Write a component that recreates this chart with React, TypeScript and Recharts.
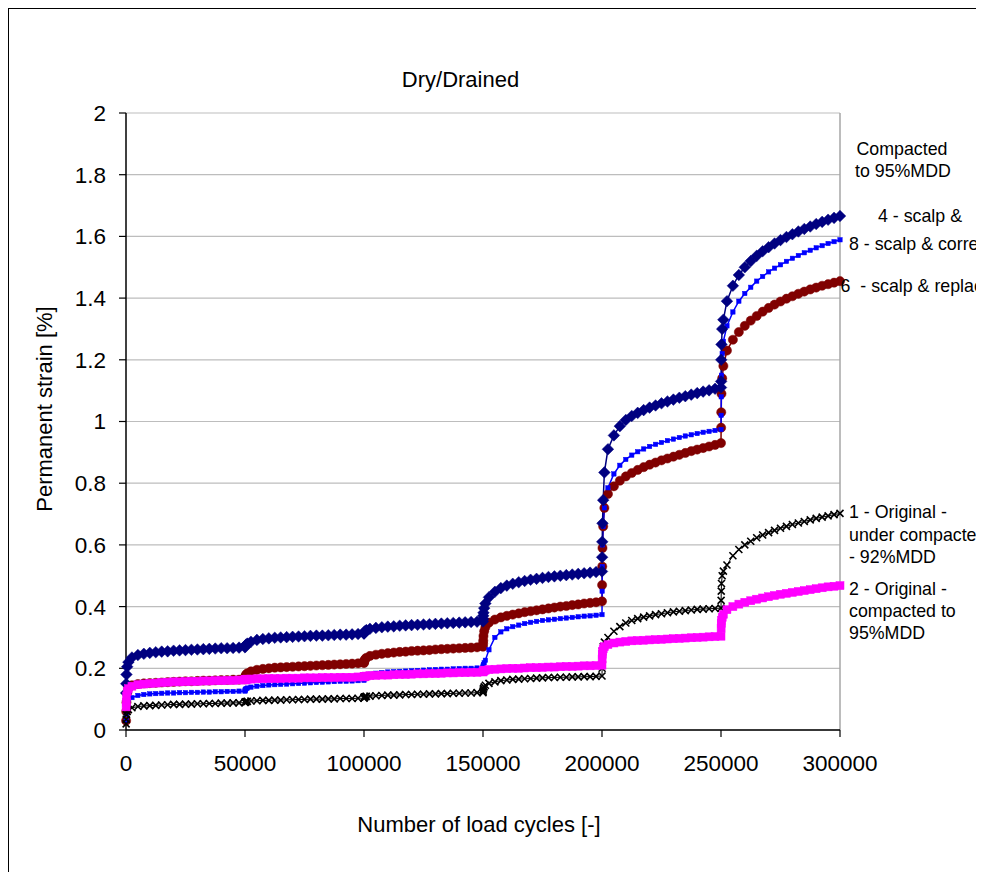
import React from 'react';
import { LineChart, Line, XAxis, YAxis, CartesianGrid, ReferenceLine } from 'recharts';

// Reading schedule: each loading stage starts at a stage boundary and is read at fixed offsets.
const stageStarts = [0, 50000, 100000, 150000, 200000, 250000];
const stageOffsets = [
  50, 100, 200, 500, 1000, 2500, 5000, 7500, 10000, 12500, 15000, 17500, 20000,
  22500, 25000, 27500, 30000, 32500, 35000, 37500, 40000, 42500, 45000, 47500, 50000,
];
const cycles = stageStarts.flatMap((s) => stageOffsets.map((o) => s + o));

// Permanent strain [%] per specimen, one row per loading stage.
const strain4 = [
  0.12, 0.15, 0.18, 0.205, 0.22, 0.235, 0.243, 0.247, 0.25, 0.252, 0.254, 0.255, 0.257, 0.258, 0.259, 0.26, 0.261, 0.262, 0.263, 0.264, 0.265, 0.265, 0.266, 0.267, 0.268,
  0.27, 0.272, 0.274, 0.277, 0.28, 0.286, 0.292, 0.295, 0.297, 0.299, 0.3, 0.301, 0.302, 0.303, 0.304, 0.305, 0.306, 0.306, 0.307, 0.308, 0.309, 0.309, 0.31, 0.311, 0.312,
  0.314, 0.316, 0.318, 0.321, 0.324, 0.328, 0.331, 0.333, 0.335, 0.336, 0.338, 0.339, 0.34, 0.341, 0.342, 0.343, 0.344, 0.345, 0.346, 0.347, 0.348, 0.349, 0.35, 0.351, 0.352,
  0.36, 0.37, 0.38, 0.395, 0.41, 0.43, 0.448, 0.46, 0.468, 0.474, 0.479, 0.483, 0.487, 0.49, 0.493, 0.496, 0.498, 0.5, 0.502, 0.504, 0.506, 0.508, 0.51, 0.512, 0.514,
  0.56, 0.61, 0.67, 0.745, 0.835, 0.91, 0.955, 0.985, 1.005, 1.018, 1.028, 1.037, 1.045, 1.052, 1.059, 1.065, 1.071, 1.077, 1.082, 1.087, 1.092, 1.097, 1.101, 1.106, 1.11,
  1.13, 1.2, 1.25, 1.3, 1.33, 1.39, 1.44, 1.475, 1.5, 1.52, 1.537, 1.552, 1.565, 1.577, 1.588, 1.598, 1.607, 1.616, 1.624, 1.632, 1.64, 1.647, 1.654, 1.66, 1.666,
];

const strain8 = [
  0.03, 0.05, 0.07, 0.09, 0.1, 0.105, 0.112, 0.115, 0.117, 0.118, 0.119, 0.12, 0.12, 0.121, 0.121, 0.122, 0.122, 0.123, 0.123, 0.124, 0.124, 0.125, 0.125, 0.126, 0.126,
  0.128, 0.13, 0.132, 0.134, 0.136, 0.139, 0.142, 0.144, 0.146, 0.147, 0.148, 0.149, 0.15, 0.151, 0.152, 0.153, 0.154, 0.155, 0.156, 0.157, 0.158, 0.158, 0.159, 0.16, 0.161,
  0.166, 0.169, 0.172, 0.175, 0.178, 0.181, 0.184, 0.186, 0.188, 0.189, 0.19, 0.191, 0.192, 0.193, 0.194, 0.195, 0.196, 0.197, 0.197, 0.198, 0.199, 0.2, 0.2, 0.201, 0.202,
  0.205, 0.208, 0.212, 0.218, 0.226, 0.26, 0.3, 0.318, 0.328, 0.335, 0.34, 0.345, 0.349, 0.352, 0.355, 0.357, 0.359, 0.361, 0.363, 0.365, 0.367, 0.369, 0.37, 0.372, 0.374,
  0.45, 0.53, 0.6, 0.66, 0.72, 0.785, 0.83, 0.858, 0.877, 0.891, 0.902, 0.911, 0.919, 0.926, 0.932, 0.938, 0.943, 0.948, 0.953, 0.957, 0.961, 0.965, 0.968, 0.971, 0.974,
  1.02, 1.08, 1.15, 1.22, 1.26, 1.31, 1.355, 1.39, 1.415, 1.435, 1.455, 1.47, 1.485, 1.497, 1.508, 1.519, 1.529, 1.538, 1.547, 1.555, 1.563, 1.57, 1.577, 1.583, 1.589,
];

const strain6 = [
  0.03, 0.06, 0.09, 0.12, 0.135, 0.145, 0.149, 0.151, 0.152, 0.153, 0.154, 0.155, 0.156, 0.157, 0.158, 0.158, 0.159, 0.16, 0.16, 0.161, 0.162, 0.162, 0.163, 0.163, 0.164,
  0.168, 0.172, 0.176, 0.18, 0.184, 0.19, 0.195, 0.198, 0.2, 0.202, 0.203, 0.204, 0.205, 0.206, 0.207, 0.208, 0.209, 0.21, 0.211, 0.212, 0.213, 0.214, 0.215, 0.216, 0.217,
  0.22, 0.223, 0.226, 0.23, 0.234, 0.24, 0.244, 0.247, 0.249, 0.251, 0.253, 0.254, 0.256, 0.257, 0.258, 0.259, 0.261, 0.262, 0.263, 0.264, 0.265, 0.266, 0.267, 0.268, 0.27,
  0.28, 0.29, 0.305, 0.32, 0.333, 0.348, 0.358, 0.365, 0.37, 0.374, 0.378, 0.382, 0.385, 0.388, 0.391, 0.394, 0.397, 0.4, 0.402, 0.405, 0.407, 0.41, 0.412, 0.414, 0.417,
  0.47, 0.53, 0.59, 0.66, 0.72, 0.765, 0.79, 0.808, 0.822, 0.833, 0.843, 0.852, 0.86, 0.867, 0.874, 0.88, 0.886, 0.892, 0.898, 0.904, 0.909, 0.914, 0.919, 0.924, 0.93,
  0.98, 1.03, 1.09, 1.14, 1.18, 1.23, 1.265, 1.29, 1.31, 1.327, 1.342, 1.356, 1.368, 1.379, 1.389, 1.398, 1.406, 1.414, 1.421, 1.428, 1.434, 1.44, 1.445, 1.45, 1.455,
];

const strain1 = [
  0.02, 0.035, 0.05, 0.06, 0.066, 0.072, 0.076, 0.078, 0.079, 0.08, 0.081, 0.082, 0.083, 0.083, 0.084, 0.084, 0.085, 0.085, 0.086, 0.086, 0.087, 0.087, 0.088, 0.088, 0.089,
  0.09, 0.09, 0.091, 0.092, 0.093, 0.094, 0.095, 0.096, 0.096, 0.097, 0.097, 0.098, 0.098, 0.099, 0.099, 0.1, 0.1, 0.1, 0.101, 0.101, 0.102, 0.102, 0.102, 0.103, 0.103,
  0.105, 0.106, 0.107, 0.108, 0.109, 0.11, 0.111, 0.112, 0.113, 0.113, 0.114, 0.115, 0.115, 0.116, 0.116, 0.117, 0.117, 0.118, 0.118, 0.119, 0.119, 0.12, 0.12, 0.121, 0.121,
  0.125, 0.13, 0.135, 0.14, 0.145, 0.151, 0.156, 0.16, 0.162, 0.164, 0.165, 0.166, 0.167, 0.168, 0.169, 0.17, 0.17, 0.171, 0.171, 0.172, 0.172, 0.173, 0.173, 0.174, 0.175,
  0.2, 0.23, 0.255, 0.27, 0.285, 0.3, 0.32, 0.335, 0.347, 0.355, 0.361, 0.366, 0.37, 0.374, 0.377, 0.38, 0.383, 0.385, 0.387, 0.389, 0.391, 0.392, 0.393, 0.394, 0.395,
  0.42, 0.45, 0.475, 0.5, 0.515, 0.535, 0.565, 0.585, 0.6, 0.612, 0.623, 0.632, 0.64, 0.647, 0.654, 0.66, 0.666, 0.671, 0.676, 0.681, 0.686, 0.69, 0.694, 0.698, 0.702,
];

const strain2 = [
  0.075, 0.09, 0.11, 0.125, 0.134, 0.142, 0.147, 0.149, 0.151, 0.152, 0.154, 0.155, 0.156, 0.156, 0.157, 0.158, 0.158, 0.159, 0.159, 0.16, 0.16, 0.161, 0.161, 0.162, 0.162,
  0.163, 0.163, 0.164, 0.164, 0.165, 0.165, 0.166, 0.166, 0.167, 0.167, 0.167, 0.168, 0.168, 0.168, 0.169, 0.169, 0.169, 0.17, 0.17, 0.17, 0.171, 0.171, 0.171, 0.172, 0.172,
  0.173, 0.173, 0.174, 0.174, 0.175, 0.176, 0.177, 0.178, 0.178, 0.179, 0.18, 0.18, 0.181, 0.182, 0.182, 0.183, 0.183, 0.184, 0.185, 0.185, 0.186, 0.186, 0.187, 0.187, 0.188,
  0.19, 0.191, 0.192, 0.193, 0.194, 0.196, 0.197, 0.198, 0.199, 0.2, 0.2, 0.201, 0.202, 0.202, 0.203, 0.204, 0.204, 0.205, 0.206, 0.206, 0.207, 0.208, 0.208, 0.209, 0.21,
  0.23, 0.245, 0.255, 0.263, 0.27, 0.277, 0.282, 0.285, 0.287, 0.289, 0.29, 0.291, 0.292, 0.293, 0.294, 0.295, 0.296, 0.297, 0.298, 0.299, 0.3, 0.301, 0.302, 0.303, 0.304,
  0.33, 0.345, 0.355, 0.365, 0.375, 0.39, 0.4, 0.408, 0.414, 0.419, 0.424, 0.428, 0.432, 0.436, 0.44, 0.443, 0.446, 0.449, 0.452, 0.455, 0.458, 0.461, 0.464, 0.466, 0.468,
];

const xTicks = [0, 50000, 100000, 150000, 200000, 250000, 300000];
const yTicks = [0, 0.2, 0.4, 0.6, 0.8, 1, 1.2, 1.4, 1.6, 1.8, 2];

const toPoints = (vals: number[]) => vals.map((y, i) => ({ x: cycles[i], y }));

const FONT = '"Liberation Sans", Arial, Helvetica, sans-serif';
const W = 984;
const H = 872;

type Marker = 'diamond' | 'square' | 'circle' | 'cross';

const makeDot = (shape: Marker, color: string, r: number) => (p: any) => {
  const { cx, cy, index } = p;
  const key = `m-${shape}-${color}-${index}`;
  if (cx == null || cy == null) return <g key={key} />;
  if (shape === 'diamond') {
    return (
      <path key={key} d={`M${cx},${cy - r}L${cx + r},${cy}L${cx},${cy + r}L${cx - r},${cy}Z`} fill={color} stroke={color} strokeWidth={0.5} />
    );
  }
  if (shape === 'square') {
    return <rect key={key} x={cx - r} y={cy - r} width={2 * r} height={2 * r} fill={color} stroke={color} strokeWidth={0.5} />;
  }
  if (shape === 'circle') {
    return <circle key={key} cx={cx} cy={cy} r={r} fill={color} stroke={color} strokeWidth={0.5} />;
  }
  return (
    <path key={key} d={`M${cx - r},${cy - r}L${cx + r},${cy + r}M${cx - r},${cy + r}L${cx + r},${cy - r}`} stroke={color} strokeWidth={1.6} fill="none" />
  );
};

const series = [
  { name: '6', values: strain6, color: '#800000', marker: 'circle' as Marker, size: 4.6, width: 1.5 },
  { name: '8', values: strain8, color: '#0000FF', marker: 'square' as Marker, size: 2.2, width: 1.5 },
  { name: '4', values: strain4, color: '#000080', marker: 'diamond' as Marker, size: 5.8, width: 1.5 },
  { name: '1', values: strain1, color: '#000000', marker: 'cross' as Marker, size: 3.5, width: 1 },
  { name: '2', values: strain2, color: '#FF00FF', marker: 'square' as Marker, size: 4, width: 1.5 },
];

// Positions of the series notes to the right of the plot.
const sideNotes = [
  { text: 'Compacted', x: 856.5, y: 155 },
  { text: 'to 95%MDD', x: 855, y: 176.5 },
  { text: '4 - scalp &', x: 878, y: 221.5 },
  { text: '8 - scalp & corrected', x: 849, y: 250 },
  { text: '6  - scalp & replaced', x: 840.5, y: 291.5 },
  { text: '1 - Original -', x: 849, y: 518 },
  { text: 'under compacted', x: 849, y: 541 },
  { text: '- 92%MDD', x: 849, y: 563 },
  { text: '2 - Original -', x: 849, y: 595 },
  { text: 'compacted to', x: 849, y: 617 },
  { text: '95%MDD', x: 849, y: 639 },
];

export default function App() {
  return (
    <div style={{ position: 'relative', width: W, height: H, margin: '-8px 0 0 -8px', fontFamily: FONT, background: '#fff' }}>
      <style>{'html{overflow:hidden;background:#fff}'}</style>
      <LineChart width={W} height={H} margin={{ top: 113, right: 144, bottom: 112, left: 66 }} style={{ fontFamily: FONT }}>
        <CartesianGrid horizontal vertical={false} stroke="#BDBDBD" strokeWidth={1.2} />
        <XAxis
          dataKey="x"
          type="number"
          domain={[0, 300000]}
          ticks={xTicks}
          interval={0}
          height={30}
          tickSize={7}
          tickMargin={18}
          axisLine={{ stroke: '#000', strokeWidth: 1.5 }}
          tickLine={{ stroke: '#000', strokeWidth: 1.2 }}
          tick={{ fontSize: 22.5, fill: '#000', fontFamily: FONT }}
          allowDuplicatedCategory={false}
        />
        <YAxis
          type="number"
          domain={[0, 2]}
          ticks={yTicks}
          interval={0}
          width={60}
          tickSize={7}
          tickMargin={13}
          axisLine={{ stroke: '#000', strokeWidth: 1.5 }}
          tickLine={{ stroke: '#000', strokeWidth: 1.2 }}
          tick={{ fontSize: 22.5, fill: '#000', fontFamily: FONT }}
        />
        <ReferenceLine x={300000} stroke="#A6A6A6" strokeWidth={1.5} />
        {series.map((s) => (
          <Line
            key={s.name}
            data={toPoints(s.values)}
            dataKey="y"
            type="linear"
            stroke={s.color}
            strokeWidth={s.width}
            dot={makeDot(s.marker, s.color, s.size)}
            activeDot={false}
            isAnimationActive={false}
          />
        ))}
      </LineChart>
      <svg
        width={W}
        height={H}
        style={{ position: 'absolute', left: 0, top: 0, pointerEvents: 'none' }}
        fontFamily={FONT}
      >
        <path d={`M8,${H + 10}V8H${W + 10}`} stroke="#000" strokeWidth={2} fill="none" />
        <text x={460.5} y={86.5} fontSize={22} textAnchor="middle" fill="#000">
          Dry/Drained
        </text>
        <text x={479} y={832} fontSize={22} textAnchor="middle" fill="#000">
          Number of load cycles [-]
        </text>
        <text x={52} y={409} fontSize={22} textAnchor="middle" fill="#000" transform="rotate(-90 52 409)">
          Permanent strain [%]
        </text>
        {sideNotes.map((n) => (
          <text key={n.text} x={n.x} y={n.y} fontSize={17.8} fill="#000" style={{ whiteSpace: 'pre' }}>
            {n.text}
          </text>
        ))}
      </svg>
    </div>
  );
}
